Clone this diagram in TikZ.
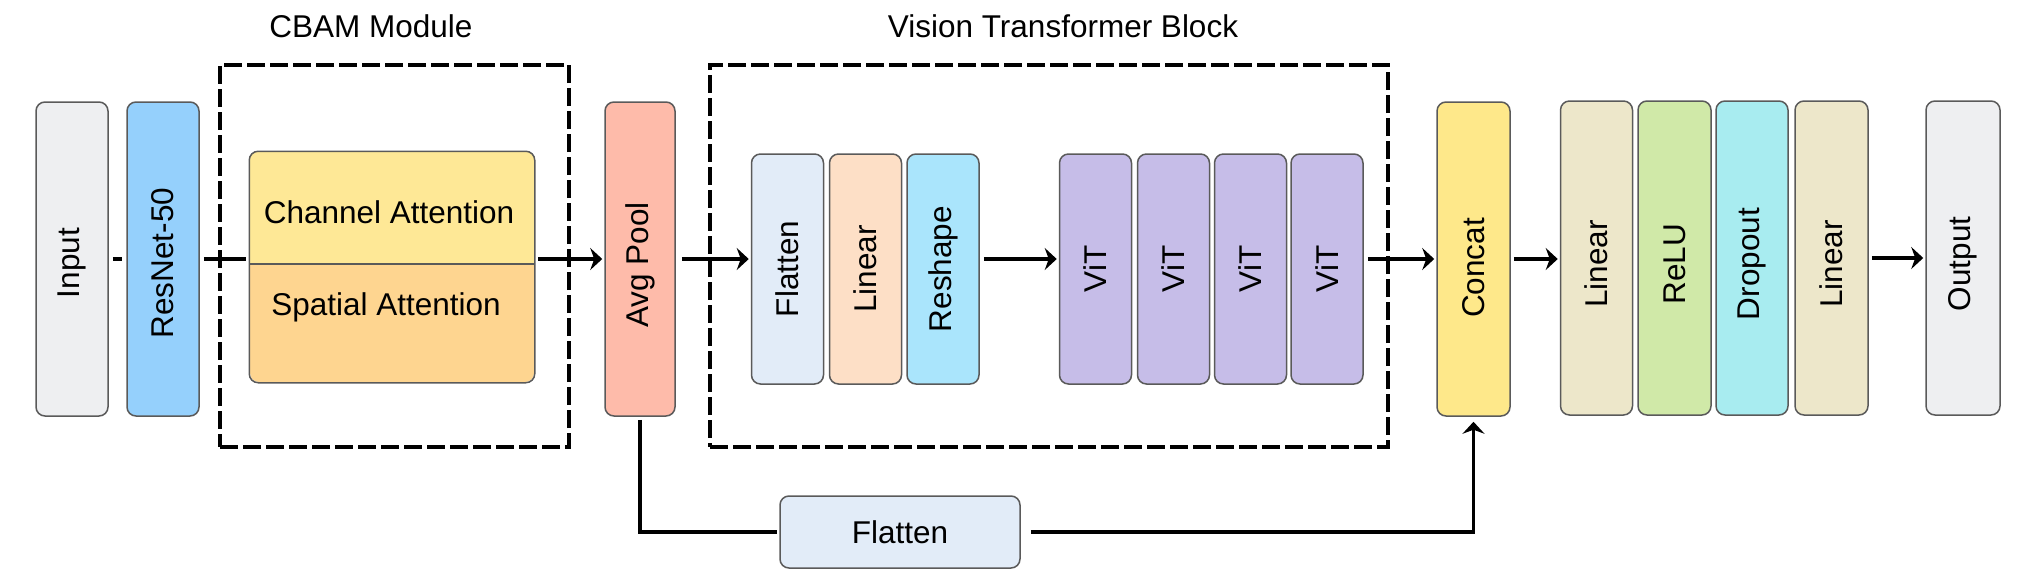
\documentclass[tikz,border=0pt]{standalone}
\usepackage{fontspec}
\setmainfont{Liberation Sans}
\usetikzlibrary{arrows.meta}
\newlength{\px}\setlength{\px}{0.5pt}
% rotated label; optional trailing space moves the text down inside its box
\newcommand{\vtext}[2][0]{\rotatebox{90}{#2\hspace{#1\px}}}
\definecolor{bordergray}{HTML}{5A5A5A}
\definecolor{cInput}{HTML}{EEEFF1}
\definecolor{cRes}{HTML}{95D0FC}
\definecolor{cChan}{HTML}{FEE896}
\definecolor{cSpat}{HTML}{FED590}
\definecolor{cAvg}{HTML}{FEBBAA}
\definecolor{cFlat}{HTML}{E2ECF8}
\definecolor{cLinV}{HTML}{FDDFC6}
\definecolor{cResh}{HTML}{AAE5FC}
\definecolor{cViT}{HTML}{C6BDE8}
\definecolor{cConcat}{HTML}{FEE88A}
\definecolor{cLinH}{HTML}{EDE7CA}
\definecolor{cRelu}{HTML}{D0E9A8}
\definecolor{cDrop}{HTML}{A8ECF0}
\tikzset{
  lbl/.style={inner sep=0pt, font=\fontsize{15.75pt}{18pt}\selectfont},
  box/.style={lbl, draw=bordergray, line width=0.75pt, rounded corners=4.5pt,
    minimum width=72\px},
  tall/.style={box, minimum height=314\px},
  short/.style={box, minimum height=230\px},
  dashbox/.style={draw=black, line width=2pt, dash pattern=on 9pt off 2.5pt,
    inner sep=0pt},
  plain/.style={line width=1.8pt, draw=black},
  arr/.style={plain, -{Stealth[length=6pt,width=11pt,inset=2pt]}},
}
\begin{document}
\begin{tikzpicture}[x=0.5pt,y=-0.5pt]
\useasboundingbox (0,0) rectangle (2020,584);

% group frames and titles
\node[dashbox, minimum width=349\px, minimum height=382\px] (cbam) at (394.5,256) {};
\node[dashbox, minimum width=678\px, minimum height=382\px] (vitblock) at (1049,256) {};
\node[lbl] (cbamtitle) at (371,26) {CBAM Module};
\node[lbl] (vittitle) at (1063,26) {Vision Transformer Block};

% backbone
\node[tall, fill=cInput] (input) at (72,259) {\vtext[8]{Input}};
\node[tall, fill=cRes] (resnet) at (163,259) {\vtext[8]{ResNet-50}};

% attention block
\node[box, draw=none, fill=cSpat, minimum width=284\px, minimum height=230\px] (attn) at (392,267) {};
\coordinate (divL) at (250,264);
\coordinate (divR) at (534,264);
\begin{scope}
  \clip[rounded corners=4.5pt] (attn.north west) rectangle (attn.south east);
  \fill[cChan] (attn.north west) rectangle (divR);
\end{scope}
\draw[bordergray, line width=0.75pt] (divL) -- (divR);
\draw[bordergray, line width=0.75pt, rounded corners=4.5pt] (attn.north west) rectangle (attn.south east);
\node[lbl] (chan) at (389,212) {Channel Attention};
\node[lbl] (spat) at (386,307) {Spatial Attention};

% pooling
\node[tall, fill=cAvg, minimum width=70\px] (avg) at (640,259) {\vtext[12]{Avg Pool}};

% vision transformer block
\node[short, fill=cFlat] (flat) at (787.5,269) {\vtext{Flatten}};
\node[short, fill=cLinV] (linv) at (865.5,269) {\vtext{Linear}};
\node[short, fill=cResh] (resh) at (943,269) {\vtext{Reshape}};
\node[short, fill=cViT] (vit1) at (1095.5,269) {\vtext{ViT}};
\node[short, fill=cViT] (vit2) at (1173.5,269) {\vtext{ViT}};
\node[short, fill=cViT] (vit3) at (1250.5,269) {\vtext{ViT}};
\node[short, fill=cViT] (vit4) at (1327,269) {\vtext{ViT}};

% head
\node[tall, fill=cConcat, minimum width=73\px] (concat) at (1473.5,259) {\vtext[18]{Concat}};
\node[tall, fill=cLinH] (lin1) at (1596.5,258) {\vtext[12]{Linear}};
\node[tall, fill=cRelu, minimum width=73\px] (relu) at (1674.5,258) {\vtext[12]{ReLU}};
\node[tall, fill=cDrop] (drop) at (1752,258) {\vtext[12]{Dropout}};
\node[tall, fill=cLinH, minimum width=73\px] (lin2) at (1831.5,258) {\vtext[12]{Linear}};
\node[tall, fill=cInput, minimum width=74\px] (out) at (1963,258) {\vtext[12]{Output}};

% skip branch
\node[box, fill=cFlat, minimum width=240\px, minimum height=72\px] (flat2) at (900,532) {Flatten};

% connectors
\draw[plain, shorten <=4\px, shorten >=4\px] (input) -- (resnet);
\draw[plain, shorten <=4\px, shorten >=3\px] (resnet.east) -- (attn.west |- resnet.east);
\draw[arr, shorten <=3\px, shorten >=2\px] (attn.east |- avg.west) -- (avg.west);
\draw[arr, shorten <=6\px, shorten >=2\px] (avg.east) -- (flat.west |- avg.east);
\draw[arr, shorten <=4\px, shorten >=2\px] (resh.east |- avg.east) -- (vit1.west |- avg.east);
\draw[arr, shorten <=4\px, shorten >=2\px] (vit4.east |- concat.west) -- (concat.west);
\draw[arr, shorten <=3\px, shorten >=2\px] (concat.east) -- (lin1.west |- concat.east);
\draw[arr, shorten <=3\px, shorten >=2\px] (lin2.east) -- (out.west);
\draw[plain, shorten <=3\px, shorten >=2\px] (avg.south) |- (flat2.west);
\draw[arr, shorten <=10\px, shorten >=5\px] (flat2.east) -| (concat.south);
\end{tikzpicture}
\end{document}
